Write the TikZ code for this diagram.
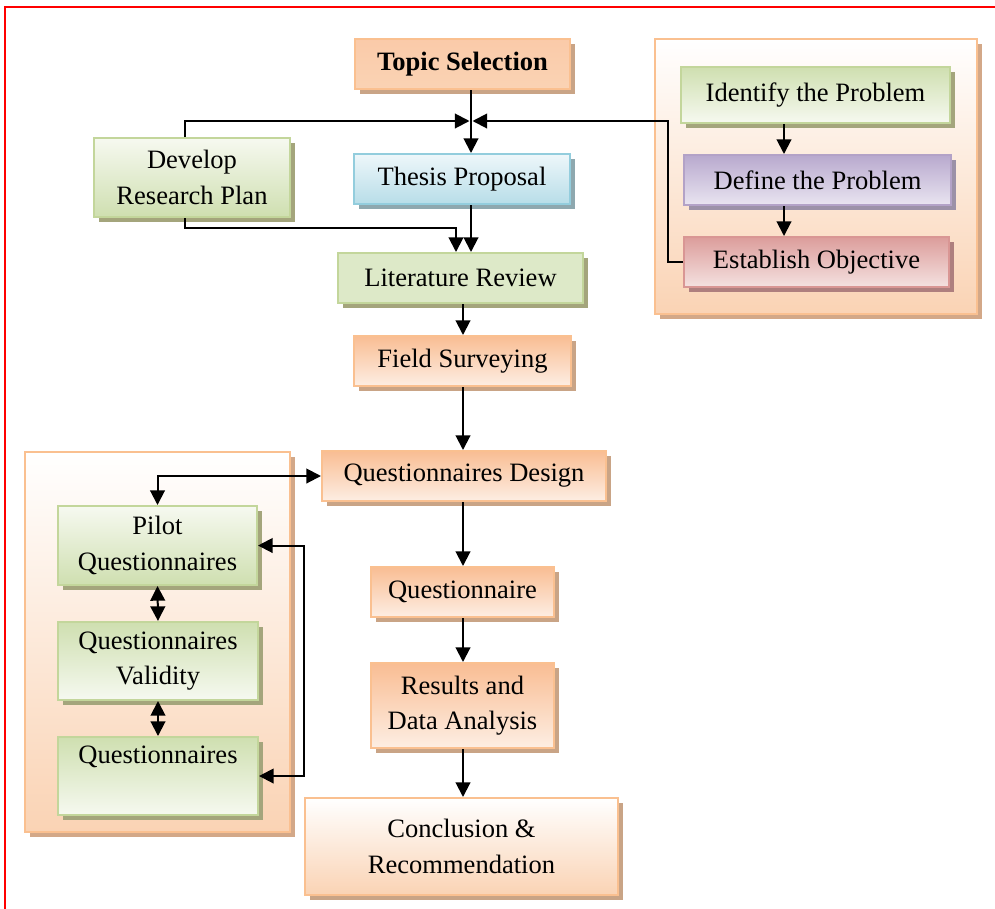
\documentclass[tikz,border=0pt]{standalone}
\usepackage{fontspec}
\setmainfont{Liberation Serif}
\usetikzlibrary{arrows.meta,shadows,calc}
\definecolor{obord}{HTML}{FAC090}
\definecolor{oshad}{HTML}{C9A486}
\definecolor{cshad}{HTML}{D3A888}
\definecolor{gbord}{HTML}{C3D69B}
\definecolor{gshad}{HTML}{A4A57C}
\definecolor{bbord}{HTML}{93CDDD}
\definecolor{bshad}{HTML}{8EA8AF}
\definecolor{pbord}{HTML}{B3A2C7}
\definecolor{pshad}{HTML}{9C91A8}
\definecolor{rbord}{HTML}{D99694}
\definecolor{rshad}{HTML}{AE7F7E}
\definecolor{oA}{HTML}{F9BD93}
\definecolor{oB}{HTML}{FDEEE3}
\definecolor{oC}{HTML}{FAD3B4}
\definecolor{gA}{HTML}{CFDFB0}
\definecolor{gB}{HTML}{F6F9F0}
\definecolor{bA}{HTML}{B7DDE8}
\definecolor{bB}{HTML}{EEF7FA}
\definecolor{pA}{HTML}{B8A9CE}
\definecolor{pB}{HTML}{E9E4F0}
\definecolor{rA}{HTML}{DC9D9B}
\definecolor{rB}{HTML}{F4E1E0}
\tikzset{
  box/.style={line width=1.5pt, anchor=center, inner sep=0pt, align=center,
    font=\fontsize{19.9}{26.5}\selectfont},
  obox/.style={box, draw=obord, top color=oA, bottom color=oB,
    drop shadow={shadow xshift=3.5pt, shadow yshift=-3.5pt, fill=oshad, opacity=1}},
  tbox/.style={box, draw=obord, top color=oA!80, middle color=oB, bottom color=oC,
    drop shadow={shadow xshift=3.5pt, shadow yshift=-3.5pt, fill=oshad, opacity=1}},
  wbox/.style={box, draw=obord, top color=white, bottom color=oC,
    drop shadow={shadow xshift=3.5pt, shadow yshift=-3.5pt, fill=oshad, opacity=1}},
  cont/.style={line width=1.5pt, draw=obord, top color=white, bottom color=oC, inner sep=0pt,
    drop shadow={shadow xshift=3.5pt, shadow yshift=-3.5pt, fill=cshad, opacity=1}},
  gbox/.style={box, draw=gbord, top color=gB, bottom color=gA,
    drop shadow={shadow xshift=3.5pt, shadow yshift=-3.5pt, fill=gshad, opacity=1}},
  gboxr/.style={box, draw=gbord, top color=gA, bottom color=gB,
    drop shadow={shadow xshift=3.5pt, shadow yshift=-3.5pt, fill=gshad, opacity=1}},
  gboxm/.style={box, draw=gbord, top color=gA!70, middle color=gB, bottom color=gA!70,
    drop shadow={shadow xshift=3.5pt, shadow yshift=-3.5pt, fill=gshad, opacity=1}},
  bbox/.style={box, draw=bbord, top color=bB, bottom color=bA,
    drop shadow={shadow xshift=3.5pt, shadow yshift=-3.5pt, fill=bshad, opacity=1}},
  pbox/.style={box, draw=pbord, top color=pA, bottom color=pB,
    drop shadow={shadow xshift=3.5pt, shadow yshift=-3.5pt, fill=pshad, opacity=1}},
  rbox/.style={box, draw=rbord, top color=rA, bottom color=rB,
    drop shadow={shadow xshift=3.5pt, shadow yshift=-3.5pt, fill=rshad, opacity=1}},
  arr/.style={line width=1.5pt, -{Triangle[length=11pt,width=11pt]}},
  darr/.style={line width=1.5pt, {Triangle[length=11pt,width=11pt]}-{Triangle[length=11pt,width=11pt]}}
}
\begin{document}
\begin{tikzpicture}[x=0.75pt,y=-0.75pt]
\useasboundingbox (0,0) rectangle (995,908);
\draw[red, line width=1.5pt] (5,920) -- (5,7) -- (1000,7);

% containers
\node[cont, minimum width=241.5pt, minimum height=206.25pt] (contR) at (816,176.5) {};
\node[cont, minimum width=198.75pt, minimum height=285pt] (contL) at (157.5,642) {};

% right group
\node[gboxr, minimum width=201.75pt, minimum height=42pt] (identify) at (815.5,95) {Identify the Problem};
\node[pbox, minimum width=200.25pt, minimum height=37.5pt] (define) at (817.5,180) {Define the Problem};
\node[rbox, minimum width=198.75pt, minimum height=37.5pt] (establish) at (816.5,262) {Establish Objective};

% main column
\node[tbox, minimum width=161.25pt, minimum height=37.5pt] (topic) at (462.5,64) {\bfseries Topic Selection};
\node[gbox, minimum width=147pt, minimum height=59.25pt] (develop) at (192,177.5) {Develop\\Research Plan};
\node[bbox, minimum width=162pt, minimum height=37.5pt] (thesis) at (462,179) {Thesis Proposal};
\node[gboxm, minimum width=183.75pt, minimum height=37.5pt] (litrev) at (460.5,278) {Literature Review};
\node[obox, minimum width=162.75pt, minimum height=37.5pt] (field) at (462.5,361) {Field Surveying};
\node[obox, minimum width=213pt, minimum height=37.5pt] (qd) at (464,476) {Questionnaires Design};
\node[obox, minimum width=137.25pt, minimum height=37.5pt] (quest) at (462.5,592) {Questionnaire};
\node[obox, minimum width=137.25pt, minimum height=63.75pt] (results) at (462.5,705.5) {Results and\\Data Analysis};
\node[wbox, minimum width=234.75pt, minimum height=72.75pt] (concl) at (461.5,846.5) {Conclusion \&\\Recommendation};

% left group
\node[gbox, minimum width=149.25pt, minimum height=59.25pt] (pilot) at (157.5,545.5) {Pilot\\Questionnaires};
\node[gboxr, minimum width=150pt, minimum height=58.5pt] (valid) at (158,661) {Questionnaires\\Validity};
\node[gboxr, minimum width=150pt, minimum height=58.5pt] (qs) at (158,776) {Questionnaires\\[-2pt]\strut};

% junction coordinates
\coordinate (j) at (471,121);
\coordinate (a) at (784,0);
\coordinate (k) at (456,228);
\coordinate (m) at (463,0);
\coordinate (r) at (304,0);

% connectors
\draw[arr] (topic.south -| j) -- (thesis.north -| j);
\draw[arr] ($(develop.north)+(-7,0)$) |- ($(j)+(-1.5,0)$);
\draw[arr] (establish.west) -- ++(-15,0) |- ($(j)+(1.5,0)$);
\draw[arr] (identify.south -| a) -- (define.north -| a);
\draw[arr] (define.south -| a) -- (establish.north -| a);
\draw[arr] (thesis.south -| j) -- (litrev.north -| j);
\draw[arr] ($(develop.south)+(-7,0)$) |- (k) -- (litrev.north -| k);
\draw[arr] (litrev.south -| m) -- (field.north -| m);
\draw[arr] (field.south -| m) -- (qd.north -| m);
\draw[arr] (qd.south -| m) -- (quest.north -| m);
\draw[arr] (quest.south -| m) -- (results.north -| m);
\draw[arr] (results.south -| m) -- (concl.north -| m);
\draw[darr] (qd.west) -| (pilot.north);
\draw[darr] (pilot.east) -- (pilot.east -| r) -- (qs.east -| r) -- (qs.east);
\draw[darr] (pilot.south) -- (valid.north);
\draw[darr] (valid.south) -- (qs.north);
\end{tikzpicture}
\end{document}
